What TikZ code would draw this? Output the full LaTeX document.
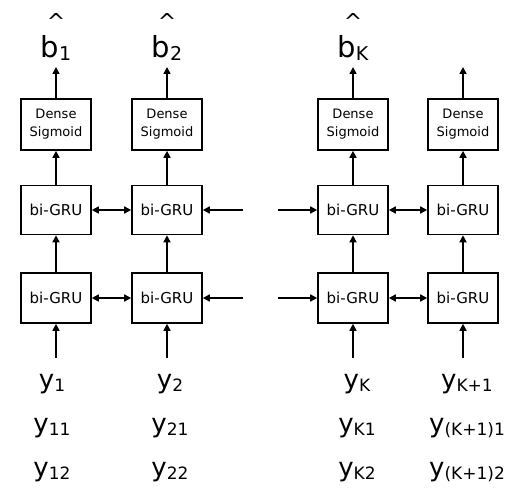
\documentclass[tikz,border=0pt]{standalone}
\usepackage{fontspec}
\setmainfont{DejaVu Sans}
\usetikzlibrary{arrows.meta}
\begin{document}
\begin{tikzpicture}[x=1pt,y=-1pt,
  box/.style={draw,line width=1.6pt,minimum width=70pt,inner sep=0pt,align=center},
  dense/.style={box,minimum height=51pt,font=\fontsize{13}{18}\selectfont},
  gru/.style={box,minimum height=49pt,font=\fontsize{15}{16}\selectfont},
  conn/.style={line width=1.6pt,-{Triangle[length=7pt,width=7pt]}},
  dconn/.style={line width=1.6pt,{Triangle[length=7pt,width=7pt]}-{Triangle[length=7pt,width=7pt]}},
  ylab/.style={anchor=base,inner sep=0pt},
]
\useasboundingbox (0,0) rectangle (522,495);
\newcommand{\ysub}[2]{{\fontsize{26}{26}\selectfont #1}\raisebox{-3pt}{\fontsize{17}{17}\selectfont #2}}
\newcommand{\bsub}[1]{{\fontsize{29}{29}\selectfont b}\raisebox{-2pt}{\fontsize{19}{19}\selectfont #1}}
% columns
\foreach \n/\x in {1/56,2/167,3/353,4/463}{
  \node[dense] (d\n) at (\x,124.5) {Dense\\Sigmoid};
  \node[gru] (u\n) at (\x,210) {bi-GRU};
  \node[gru,minimum height=50pt] (l\n) at (\x,298) {bi-GRU};
  \coordinate (top\n) at (\x,67);
  \coordinate (in\n) at (\x,358);
  \draw[conn] (d\n.north) -- (top\n);
  \draw[conn] (u\n.north) -- (d\n.south);
  \draw[conn] (l\n.north) -- (u\n.south);
  \draw[conn] (in\n) -- (l\n.south);
}
% horizontal
\draw[dconn] (u1.east) -- (u2.west);
\draw[dconn] (l1.east) -- (l2.west);
\draw[dconn] (u3.east) -- (u4.west);
\draw[dconn] (l3.east) -- (l4.west);
\coordinate (ru) at (243,210);
\coordinate (rl) at (243,298);
\coordinate (lu) at (278,210);
\coordinate (ll) at (278,298);
\draw[conn] (ru) -- (u2.east);
\draw[conn] (rl) -- (l2.east);
\draw[conn] (lu) -- (u3.west);
\draw[conn] (ll) -- (l3.west);
% outputs
\foreach \n/\x/\s in {1/56/1,2/167/2,3/353/K}{
  \node[ylab] (h\n) at (\x,30) {\fontsize{22}{22}\selectfont\char`\^};
  \node[ylab] (b\n) at (\x,58) {\bsub{\s}};
}
% inputs
\node[ylab] (y1) at (52,388) {\ysub{y}{1}};
\node[ylab] (y11) at (52,432) {\ysub{y}{11}};
\node[ylab] (y12) at (52,476) {\ysub{y}{12}};
\node[ylab] (y2) at (170,388) {\ysub{y}{2}};
\node[ylab] (y21) at (170,432) {\ysub{y}{21}};
\node[ylab] (y22) at (170,476) {\ysub{y}{22}};
\node[ylab] (yK) at (357,388) {\ysub{y}{K}};
\node[ylab] (yK1) at (357,432) {\ysub{y}{K1}};
\node[ylab] (yK2) at (357,476) {\ysub{y}{K2}};
\node[ylab] (yK+1) at (467,388) {\ysub{y}{K+1}};
\node[ylab] (yK+11) at (467,432) {\ysub{y}{(K+1)1}};
\node[ylab] (yK+12) at (467,476) {\ysub{y}{(K+1)2}};
\end{tikzpicture}
\end{document}
